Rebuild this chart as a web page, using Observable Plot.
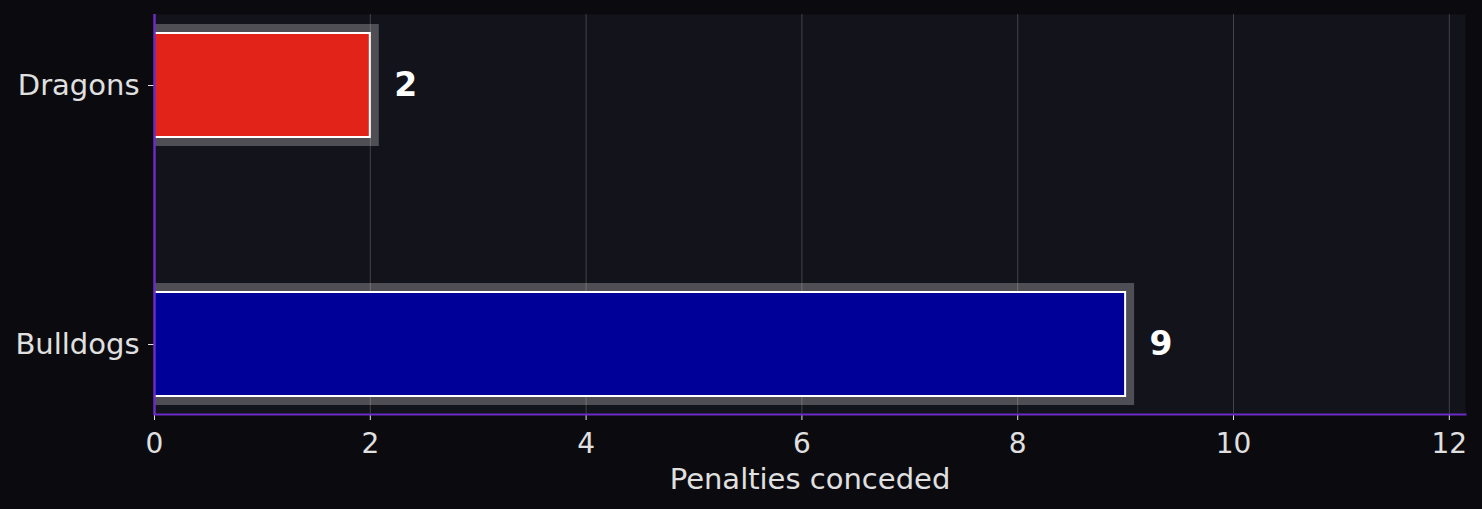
<!DOCTYPE html>
<html>
<head>
<meta charset="utf-8">
<script src="https://cdn.jsdelivr.net/npm/d3@7"></script>
<script src="https://cdn.jsdelivr.net/npm/@observablehq/plot@0.6"></script>
<style>
  html, body { margin: 0; padding: 0; background: #0b0b0f; }
  #chart svg { display: block; }
</style>
</head>
<body>
<div id="chart"></div>
<script>
const teams = ["Dragons", "Bulldogs"];
const penalties = [2, 9];
const colors = ["#e2231a", "#000099"];
const xTicks = [0, 2, 4, 6, 8, 10, 12];

const data = teams.map((t, i) => ({team: t, value: penalties[i], color: colors[i]}));

const spineColor = "#6a2cc4";

const chart = Plot.plot({
  width: 1482,
  height: 509,
  marginLeft: 154,
  marginRight: 17,
  marginTop: 14,
  marginBottom: 95,
  style: {background: "#0b0b0f", fontFamily: "DejaVu Sans", fontSize: "28px", color: "#e0e0e0"},
  x: {domain: [0, 12.15], ticks: xTicks},
  y: {domain: teams, paddingInner: 0.6, paddingOuter: 0.07},
  marks: [
    Plot.frame({fill: "#13131b", stroke: null}),
    Plot.barX(data, {x1: 0, x2: "value", y: "team", fill: "#4e4e54", insetTop: -9, insetBottom: -9, insetRight: -9}),
    Plot.gridX(xTicks, {stroke: "#ffffff", strokeOpacity: 0.2, strokeWidth: 1}),
    Plot.barX(data, {x1: 0, x2: "value", y: "team", fill: "color", stroke: "#ffffff", strokeWidth: 2, insetLeft: -3, clip: true}),
    Plot.text(data, {x: "value", y: "team", text: d => String(d.value), dx: 24, textAnchor: "start", fontWeight: "bold", fontSize: 33, fill: "#ffffff"}),
    Plot.axisX({ticks: xTicks, tickSize: 6, tickPadding: 13, fontSize: 28, stroke: "#e0e0e0", fill: "#e0e0e0", label: null}),
    Plot.axisX({ticks: [], tickSize: 0, fontSize: 29, fill: "#e0e0e0", label: "Penalties conceded", labelAnchor: "center", labelArrow: "none", labelOffset: 74}),
    Plot.axisY({tickSize: 6, tickPadding: 9, fontSize: 29, stroke: "#e0e0e0", fill: "#e0e0e0", label: null}),
    Plot.ruleX([0], {stroke: spineColor, strokeWidth: 2.5}),
    Plot.frame({anchor: "bottom", stroke: spineColor, strokeWidth: 2})
  ]
});
document.getElementById("chart").appendChild(chart);
</script>
</body>
</html>
